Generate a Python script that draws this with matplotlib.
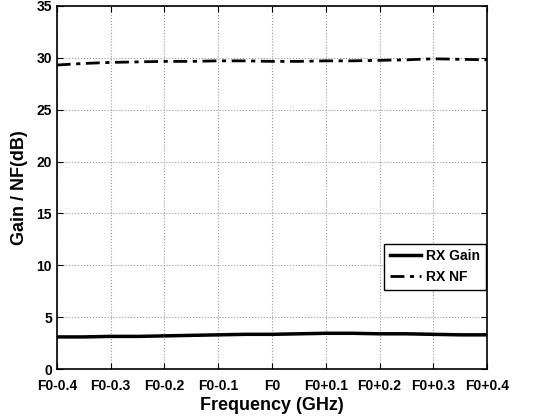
import numpy as np
import matplotlib.pyplot as plt

plt.rcParams['font.family'] = ['Liberation Sans', 'DejaVu Sans']
plt.rcParams['font.weight'] = 'bold'

freq = [-0.4, -0.35, -0.3, -0.25, -0.2, -0.15, -0.1, -0.05, 0.0, 0.05, 0.1, 0.15, 0.2, 0.25, 0.3, 0.35, 0.4]
rx_gain = [3.1, 3.1, 3.15, 3.15, 3.2, 3.25, 3.3, 3.35, 3.35, 3.4, 3.45, 3.45, 3.4, 3.4, 3.35, 3.3, 3.3]
rx_nf = [29.3, 29.45, 29.55, 29.6, 29.65, 29.65, 29.7, 29.7, 29.65, 29.65, 29.7, 29.7, 29.75, 29.8, 29.9, 29.85, 29.8]
tick_pos = [-0.4, -0.3, -0.2, -0.1, 0.0, 0.1, 0.2, 0.3, 0.4]
tick_labels = ['F0-0.4', 'F0-0.3', 'F0-0.2', 'F0-0.1', 'F0', 'F0+0.1', 'F0+0.2', 'F0+0.3', 'F0+0.4']

fig = plt.figure(figsize=(5.51, 4.18), dpi=100)
ax = fig.add_axes([0.103, 0.117, 0.781, 0.869])

ax.plot(freq, rx_gain, color='black', lw=2.5, label='RX Gain')
ax.plot(freq, rx_nf, color='black', lw=2, linestyle=(0, (5, 2, 1.5, 2)), label='RX NF')

ax.set_xlim(-0.4, 0.4)
ax.set_ylim(0, 35)
ax.set_xticks(tick_pos)
ax.set_xticklabels(tick_labels)
ax.set_yticks(np.arange(0, 36, 5))
ax.tick_params(direction='in', top=True, right=True, labelsize=10, length=4)
ax.tick_params(axis='x', pad=7)
for t in ax.get_xticklabels() + ax.get_yticklabels():
    t.set_fontweight('bold')
ax.grid(True, linestyle=':', color='#999999', lw=0.8)
for s in ax.spines.values():
    s.set_linewidth(1.2)

ax.set_xlabel('Frequency (GHz)', fontsize=13, fontweight='bold', labelpad=3)
ax.set_ylabel('Gain / NF(dB)', fontsize=13, fontweight='bold', labelpad=6)

leg = ax.legend(loc='lower right', bbox_to_anchor=(1.0, 0.215), fontsize=10, frameon=True,
                fancybox=False, edgecolor='black', framealpha=1, handlelength=2.2,
                handletextpad=0.4, borderpad=0.4, labelspacing=0.5, borderaxespad=0.1)
leg.get_frame().set_linewidth(1)

fig.savefig('out.png', dpi=100)
